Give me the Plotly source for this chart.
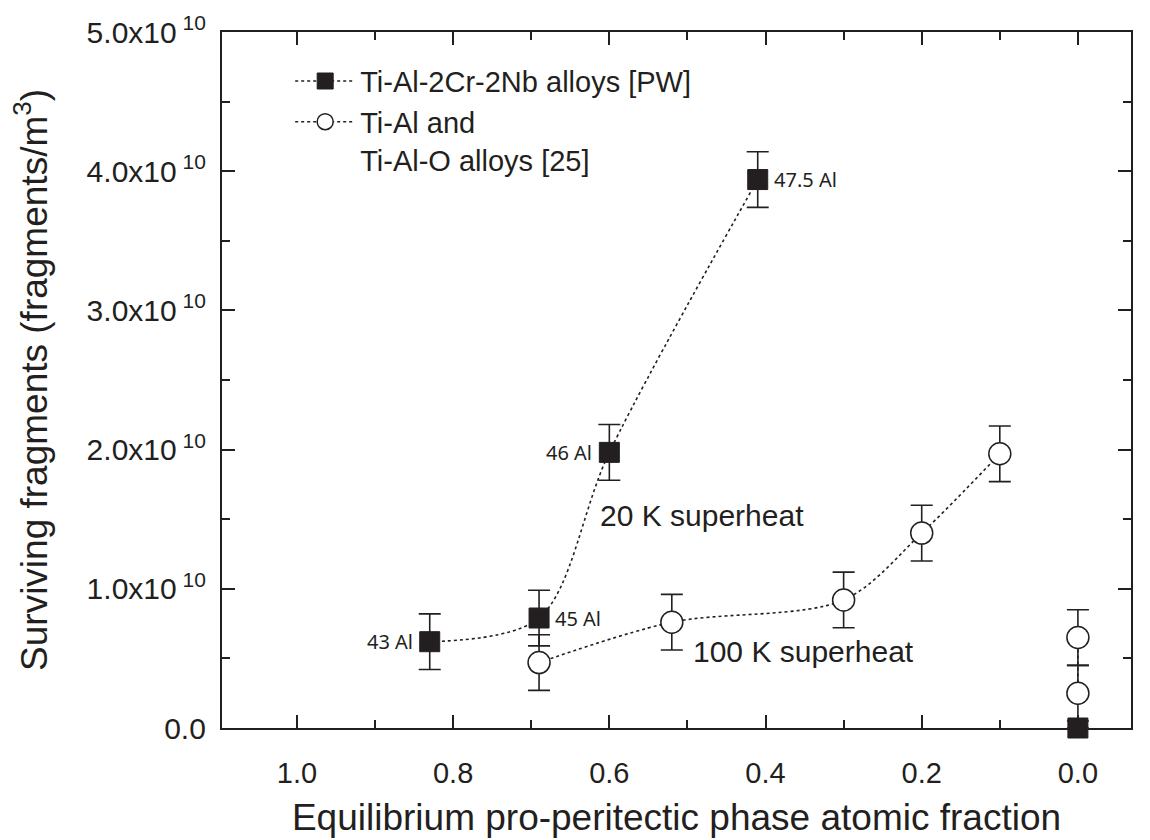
import plotly.graph_objects as go

# Ti-Al-2Cr-2Nb alloys [PW]
sq_x = [0.83, 0.69, 0.60, 0.41, None, 0.0]
sq_y = [0.62e10, 0.79e10, 1.98e10, 3.94e10, None, 0.0]
sq_err = [0.2e10, 0.2e10, 0.2e10, 0.2e10, None, 0.0]

# Ti-Al and Ti-Al-O alloys [25]
ci_x = [0.69, 0.52, 0.30, 0.20, 0.10, None, 0.0, 0.0]
ci_y = [0.47e10, 0.76e10, 0.92e10, 1.40e10, 1.97e10, None, 0.65e10, 0.25e10]
ci_err = [0.2e10, 0.2e10, 0.2e10, 0.2e10, 0.2e10, None, 0.2e10, 0.2e10]

ytick_vals = [0.0, 1e10, 2e10, 3e10, 4e10, 5e10]
ytick_text = ["0.0", "1.0x10<sup> 10</sup>", "2.0x10<sup> 10</sup>", "3.0x10<sup> 10</sup>",
              "4.0x10<sup> 10</sup>", "5.0x10<sup> 10</sup>"]
xtick_vals = [1.0, 0.8, 0.6, 0.4, 0.2, 0.0]
xtick_text = ["1.0", "0.8", "0.6", "0.4", "0.2", "0.0"]

point_labels = [
    (0.83, 0.62e10, "43 Al", "right"),
    (0.69, 0.79e10, "45 Al", "left"),
    (0.60, 1.98e10, "46 Al", "right"),
    (0.41, 3.94e10, "47.5 Al", "left"),
]

FONT = "Liberation Sans, Arial, sans-serif"
INK = "#231f20"

fig = go.Figure()

fig.add_trace(go.Scatter(
    x=ci_x, y=ci_y, mode="lines+markers", name="Ti-Al and<br>Ti-Al-O alloys [25]",
    line=dict(color=INK, width=1.6, dash="dot", shape="spline", smoothing=0.9),
    connectgaps=False,
    marker=dict(symbol="circle", size=22, color="white", line=dict(color=INK, width=1.5)),
    error_y=dict(type="data", array=ci_err, visible=True, color=INK, thickness=1.6, width=11),
    cliponaxis=False, legendrank=2,
))
fig.add_trace(go.Scatter(
    x=sq_x, y=sq_y, mode="lines+markers", name="Ti-Al-2Cr-2Nb alloys [PW]",
    line=dict(color=INK, width=1.6, dash="dot", shape="spline", smoothing=0.9),
    connectgaps=False,
    marker=dict(symbol="square", size=20, color=INK, line=dict(color=INK, width=1)),
    error_y=dict(type="data", array=sq_err, visible=True, color=INK, thickness=1.6, width=11),
    cliponaxis=False, legendrank=1,
))

for x, y, t, side in point_labels:
    fig.add_annotation(x=x, y=y, text=t, showarrow=False,
                       xanchor="right" if side == "right" else "left",
                       xshift=-15 if side == "right" else 14,
                       font=dict(family="Noto Sans, sans-serif", size=20, color=INK))

fig.add_annotation(x=0.614, y=1.53e10, text="20 K superheat", showarrow=False, xanchor="left",
                   font=dict(family=FONT, size=30, color=INK))
fig.add_annotation(x=0.495, y=0.55e10, text="100 K superheat", showarrow=False, xanchor="left",
                   font=dict(family=FONT, size=30, color=INK))

fig.update_layout(
    width=1142, height=832,
    margin=dict(l=214, r=19, t=24, b=112),
    paper_bgcolor="white", plot_bgcolor="white",
    font=dict(family=FONT, color=INK),
    showlegend=True,
    legend=dict(x=0.075, y=0.966, xanchor="left", yanchor="top", bgcolor="rgba(0,0,0,0)",
                font=dict(family=FONT, size=29, color=INK), valign="top",
                tracegroupgap=0, itemwidth=60),
)

fig.update_xaxes(
    range=[1.096, -0.068], tickmode="array", tickvals=xtick_vals, ticktext=xtick_text,
    ticks="inside", ticklen=13, tickwidth=1.6, tickcolor=INK,
    showline=True, linecolor=INK, linewidth=2.2, mirror="ticks",
    showgrid=False, zeroline=False, automargin=False,
    tickfont=dict(family=FONT, size=29, color=INK), ticklabelstandoff=18,
    minor=dict(ticks="inside", ticklen=8, tickwidth=1.6, tickcolor=INK,
               tickmode="array", tickvals=[0.9, 0.7, 0.5, 0.3, 0.1], showgrid=False),
    title=dict(text="Equilibrium pro-peritectic phase atomic fraction",
               font=dict(family=FONT, size=37, color=INK), standoff=16),
)
fig.update_yaxes(
    range=[0, 5e10], tickmode="array", tickvals=ytick_vals, ticktext=ytick_text,
    ticks="inside", ticklen=13, tickwidth=1.6, tickcolor=INK,
    showline=True, linecolor=INK, linewidth=2.2, mirror="ticks",
    showgrid=False, zeroline=False, automargin=False,
    tickfont=dict(family=FONT, size=30, color=INK), ticklabelstandoff=8,
    minor=dict(ticks="inside", ticklen=8, tickwidth=1.6, tickcolor=INK,
               tickmode="array", tickvals=[0.5e10, 1.5e10, 2.5e10, 3.5e10, 4.5e10], showgrid=False),
    title=dict(text="Surviving fragments (fragments/m<sup>3</sup>)",
               font=dict(family=FONT, size=37, color=INK), standoff=28),
)

fig.write_html("out.html")
